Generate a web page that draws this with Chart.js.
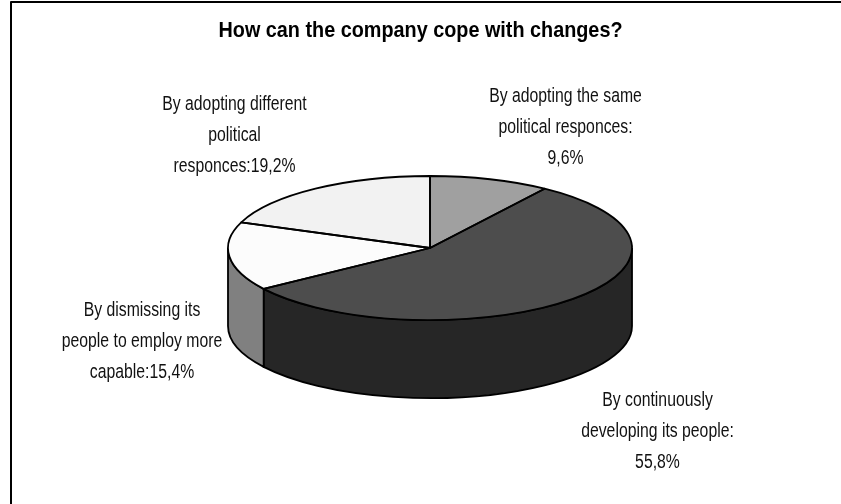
<!DOCTYPE html>
<html>
<head>
<meta charset="utf-8">
<style>
  html, body { margin: 0; padding: 0; background: #fff; }
  canvas { display: block; }
</style>
<script src="https://cdn.jsdelivr.net/npm/chart.js@4/dist/chart.umd.min.js"></script>
</head>
<body>
<canvas id="pie" width="841" height="504"></canvas>
<script>
const chartTitle = "How can the company cope with changes?";
const categories = [
  "By adopting the same political responces",
  "By continuously developing its people",
  "By dismissing its people to employ more capable",
  "By adopting different political responces"
];
const shares = [9.6, 55.8, 15.4, 19.2];
const topColors = ["#a0a0a0", "#4d4d4d", "#fcfcfc", "#f2f2f2"];
const wallColors = ["#6e6e6e", "#262626", "#808080", "#a8a8a8"];
const labelLines = [
  ["By adopting the same", "political responces:", "9,6%"],
  ["By continuously", "developing its people:", "55,8%"],
  ["By dismissing its", "people to employ more", "capable:15,4%"],
  ["By adopting different", "political", "responces:19,2%"]
];
// centre x and first baseline of each label
const labelAnchors = [[565.5, 102], [657.5, 406], [142, 316], [234.5, 110]];

const centerX = 430;
const centerY = 248;
const squash = 72 / 202;
const depth = 78;
const lineGap = 31;
const narrow = 0.77;

function ellipseArc(ctx, a, start, end, dy, ccw) {
  ctx.ellipse(centerX, centerY + dy, a.outerRadius, a.outerRadius * squash, 0, start, end, ccw);
}

// Chart.js only knows flat pies, so the top face is drawn squashed and the rim is added by hand
const tiltedPie = {
  id: "tiltedPie",
  beforeDatasetsDraw(chart) {
    const ctx = chart.ctx;
    const arcs = chart.getDatasetMeta(0).data;
    arcs.forEach((a, i) => {
      const start = Math.max(a.startAngle, 0);
      const end = Math.min(a.endAngle, Math.PI);
      if (end <= start) return;
      ctx.beginPath();
      ellipseArc(ctx, a, start, end, 0, false);
      ellipseArc(ctx, a, end, start, depth, true);
      ctx.closePath();
      ctx.fillStyle = wallColors[i];
      ctx.fill();
      ctx.strokeStyle = "#000";
      ctx.lineWidth = 1.8;
      ctx.stroke();
    });
    ctx.save();
    ctx.translate(centerX - arcs[0].x, centerY);
    ctx.scale(1, squash);
    ctx.translate(0, -arcs[0].y);
  },
  afterDatasetsDraw(chart) {
    const ctx = chart.ctx;
    ctx.restore();
    const arcs = chart.getDatasetMeta(0).data;
    ctx.strokeStyle = "#000";
    ctx.lineWidth = 1.8;
    ctx.lineJoin = "round";
    arcs.forEach((a) => {
      ctx.beginPath();
      ctx.moveTo(centerX, centerY);
      ellipseArc(ctx, a, a.startAngle, a.endAngle, 0, false);
      ctx.closePath();
      ctx.stroke();
    });

    ctx.fillStyle = "#111";
    ctx.font = '20.5px "Liberation Sans", Arial, sans-serif';
    ctx.textAlign = "center";
    ctx.textBaseline = "alphabetic";
    labelLines.forEach((lines, i) => {
      const [x, y] = labelAnchors[i];
      lines.forEach((t, n) => {
        ctx.save();
        ctx.translate(x, y + n * lineGap);
        ctx.scale(narrow, 1);
        ctx.fillText(t, 0, 0);
        ctx.restore();
      });
    });

    // only the top and left sides of the frame are there
    ctx.lineWidth = 2;
    ctx.strokeStyle = "#000";
    ctx.beginPath();
    ctx.moveTo(11, 504);
    ctx.lineTo(11, 2);
    ctx.lineTo(841, 2);
    ctx.stroke();
  }
};

new Chart(document.getElementById("pie"), {
  type: "pie",
  plugins: [tiltedPie],
  data: {
    labels: categories,
    datasets: [{ data: shares, backgroundColor: topColors, borderWidth: 0 }]
  },
  options: {
    responsive: false,
    animation: false,
    layout: { padding: { left: 218.5, right: 218.5, top: 0, bottom: 0 } },
    plugins: {
      legend: { display: false },
      tooltip: { enabled: false },
      title: {
        display: true,
        text: chartTitle,
        color: "#000",
        font: { family: '"Liberation Sans Narrow", "Liberation Sans", sans-serif', size: 22, weight: "bold" },
        padding: { top: 18, bottom: 10 }
      }
    }
  }
});
</script>
</body>
</html>
